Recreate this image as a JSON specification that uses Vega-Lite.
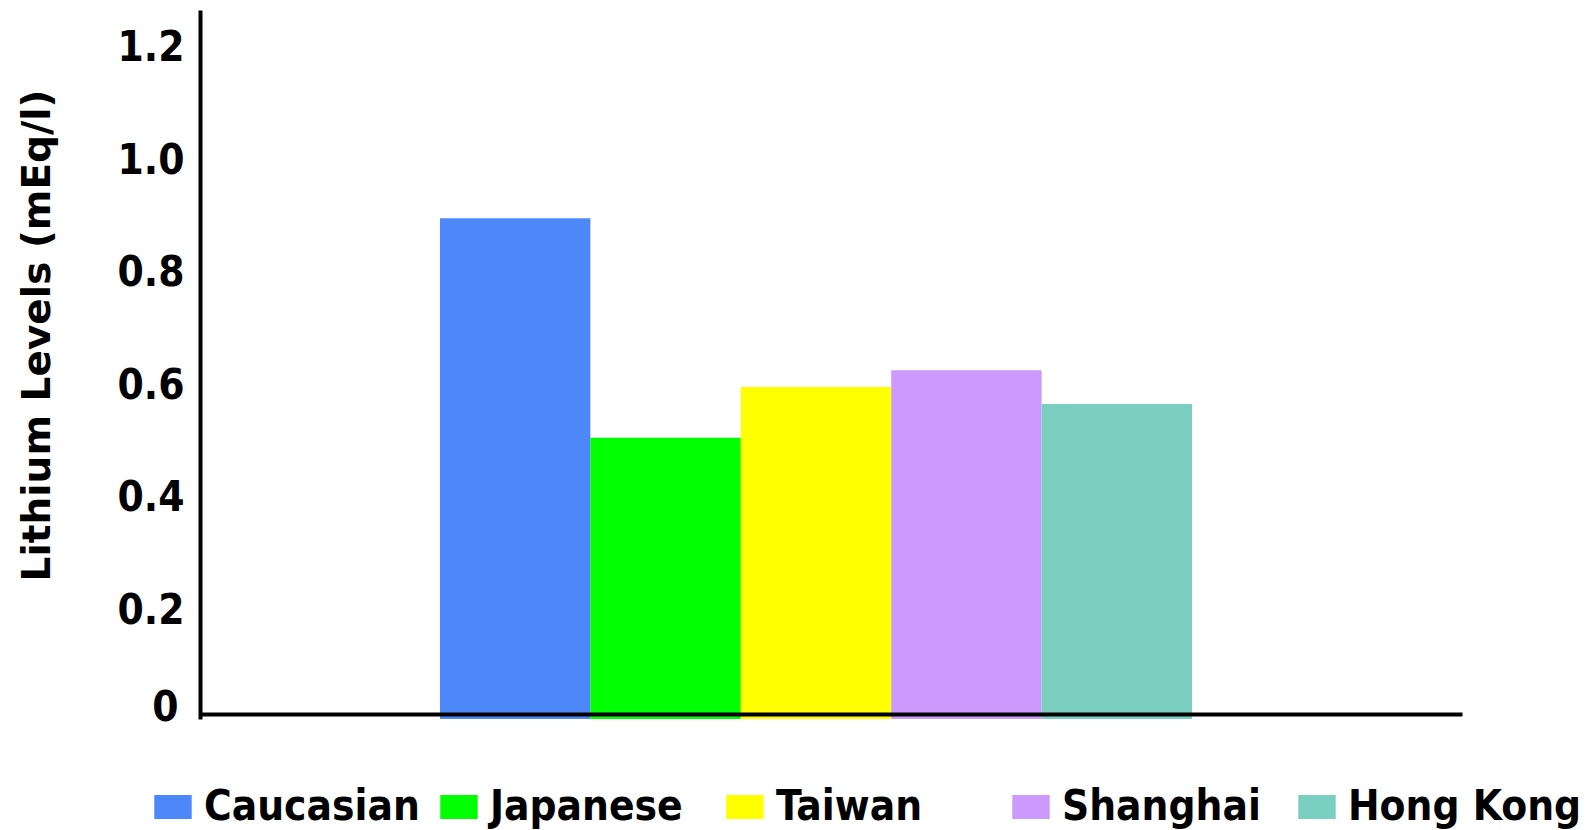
{
  "$schema": "https://vega.github.io/schema/vega-lite/v6.json",
  "autosize": {"type": "none"},
  "width": 1262,
  "height": 709,
  "padding": {"left": 200, "top": 10, "right": 125, "bottom": 111},
  "background": "white",
  "config": {
    "view": {"stroke": null},
    "font": "DejaVu Sans Condensed"
  },
  "data": {
    "values": [
      {"set": "Lithium", "group": "Caucasian", "level": 0.89},
      {"set": "Lithium", "group": "Japanese", "level": 0.5},
      {"set": "Lithium", "group": "Taiwan", "level": 0.59},
      {"set": "Lithium", "group": "Shanghai", "level": 0.62},
      {"set": "Lithium", "group": "Hong Kong", "level": 0.56}
    ]
  },
  "mark": {"type": "bar"},
  "encoding": {
    "x": {
      "field": "set",
      "type": "nominal",
      "scale": {"paddingInner": 0, "paddingOuter": 0.339, "align": 0.4706},
      "axis": {
        "title": null,
        "labels": false,
        "ticks": false,
        "domain": true,
        "domainColor": "black",
        "domainWidth": 4,
        "offset": -5,
        "zindex": 1
      }
    },
    "xOffset": {
      "field": "group",
      "type": "nominal",
      "sort": null,
      "scale": {
        "domain": ["Caucasian", "Japanese", "Taiwan", "Shanghai", "Hong Kong"],
        "paddingInner": 0,
        "paddingOuter": 0
      }
    },
    "y": {
      "field": "level",
      "type": "quantitative",
      "scale": {"domain": [0, 1.2604], "nice": false},
      "axis": {
        "title": "Lithium Levels (mEq/l)",
        "titleFont": "DejaVu Sans",
        "titleFontSize": 39,
        "titleFontWeight": "bold",
        "titleColor": "black",
        "titleAngle": -90,
        "titleBaseline": "alphabetic",
        "titleAlign": "center",
        "titleX": -151,
        "titleY": 325,
        "values": [0, 0.2, 0.4, 0.6, 0.8, 1.0, 1.2],
        "labelExpr": "datum.value == 0 ? '0' : format(datum.value, '.1f')",
        "labelFont": "DejaVu Sans Condensed",
        "labelFontSize": 42,
        "labelFontWeight": "bold",
        "labelColor": "black",
        "labelOffset": {"condition": {"test": "datum.value == 0", "value": -11.5}, "value": 4},
        "labelPadding": {"condition": {"test": "datum.value == 0", "value": 22}, "value": 16},
        "labelOverlap": false,
        "labelFlush": false,
        "ticks": false,
        "tickSize": 0,
        "grid": false,
        "domain": true,
        "domainColor": "black",
        "domainWidth": 4
      }
    },
    "color": {
      "field": "group",
      "type": "nominal",
      "sort": null,
      "scale": {
        "domain": ["Caucasian", "Japanese", "Taiwan", "Shanghai", "Hong Kong"],
        "range": ["#4D88FB", "#00FF00", "#FFFF00", "#CC99FF", "#7ACFC0"]
      },
      "legend": {
        "title": null,
        "orient": "none",
        "direction": "horizontal",
        "columns": 5,
        "gridAlign": "all",
        "columnPadding": -6,
        "padding": 0,
        "legendX": -48,
        "legendY": 776,
        "symbolType": "M-1,-0.64H1V0.64H-1Z",
        "symbolSize": 1400,
        "symbolStrokeWidth": 0,
        "symbolOpacity": 1,
        "labelFont": "DejaVu Sans Condensed",
        "labelFontSize": 42,
        "labelFontWeight": "bold",
        "labelColor": "black",
        "labelOffset": 10,
        "labelLimit": 400
      }
    }
  }
}
